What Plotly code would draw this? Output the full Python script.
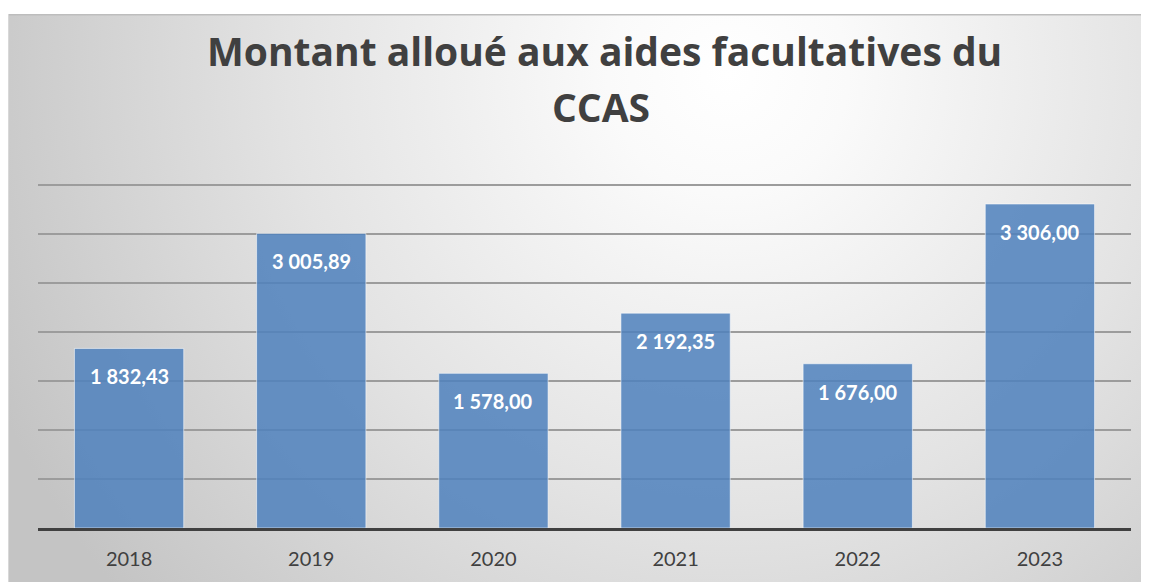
import plotly.graph_objects as go
import urllib.parse

years = ["2018", "2019", "2020", "2021", "2022", "2023"]
values = [1832.43, 3005.89, 1578.00, 2192.35, 1676.00, 3306.00]
labels = ["1 832,43", "3 005,89", "1 578,00", "2 192,35", "1 676,00", "3 306,00"]
title_lines = ["Montant alloué aux aides facultatives du", "CCAS"]

# page body has an 8px margin: figure pixel = screen pixel - 8
OFF = 8
W, H = 1149 - OFF, 582 - OFF
ml, mr, mt, mb = 38 - OFF, 18, 179 - OFF, 582 - 528
pw, ph = W - ml - mr, H - mt - mb
ymax = ph * 3500 / 343.0  # 3500 gridline at screen y=185

fx0, fy0 = 0, 14 - OFF
fw, fh = W - fx0, H - fy0
svg = f'''<svg xmlns="http://www.w3.org/2000/svg" width="{fw}" height="{fh}" viewBox="0 0 {fw} {fh}" preserveAspectRatio="none">
<defs><radialGradient id="g" gradientUnits="userSpaceOnUse" cx="720" cy="60" r="800">
<stop offset="0" stop-color="#ffffff"/><stop offset="0.15" stop-color="#fafafa"/><stop offset="0.55" stop-color="#e3e3e3"/><stop offset="1" stop-color="#c4c4c4"/></radialGradient></defs>
<rect x="0" y="0" width="{fw}" height="{fh}" fill="url(#g)"/>
<line x1="0" y1="0.5" x2="{fw}" y2="0.5" stroke="#bdbdbd" stroke-width="2"/>
<line x1="0.5" y1="0" x2="0.5" y2="{fh}" stroke="#d8d8d8" stroke-width="1"/>
</svg>'''
src = "data:image/svg+xml;charset=utf-8," + urllib.parse.quote(svg)

def px2paper_x(px):
    return (px - ml) / pw

def px2paper_y(py):
    return (H - mb - py) / ph

fig = go.Figure()
fig.add_trace(go.Bar(
    x=years, y=values,
    marker=dict(color="rgba(79,129,189,0.86)", line=dict(color="rgba(255,255,255,0.55)", width=1)),
    width=0.6, hoverinfo="skip",
))

annotations = []
for i, (v, lab) in enumerate(zip(values, labels)):
    annotations.append(dict(x=i, y=v, xref="x", yref="y", text=lab, showarrow=False,
                            yanchor="middle", yshift=-28,
                            font=dict(family="Lato", size=20, color="white", weight="bold")))

annotations.append(dict(x=px2paper_x(604 - OFF), y=px2paper_y(50 - OFF), xref="paper", yref="paper",
                        xanchor="center", yanchor="middle", showarrow=False,
                        text=f"<b>{title_lines[0]}</b>",
                        font=dict(family="Open Sans", size=39, color="#404040")))
annotations.append(dict(x=px2paper_x(601 - OFF), y=px2paper_y(107 - OFF), xref="paper", yref="paper",
                        xanchor="center", yanchor="middle", showarrow=False,
                        text=f"<b>{title_lines[1]}</b>",
                        font=dict(family="Open Sans", size=39, color="#404040")))

fig.update_layout(
    width=W, height=H,
    margin=dict(l=ml, r=mr, t=mt, b=mb, autoexpand=False),
    paper_bgcolor="white", plot_bgcolor="rgba(0,0,0,0)",
    showlegend=False,
    annotations=annotations,
    images=[dict(source=src, xref="paper", yref="paper",
                 x=px2paper_x(fx0), y=px2paper_y(fy0),
                 sizex=fw / pw, sizey=fh / ph, sizing="stretch",
                 xanchor="left", yanchor="top", layer="below")],
    xaxis=dict(type="category", range=[-0.5, len(years) - 0.5], showgrid=False,
               showline=True, linecolor="#404040", linewidth=3,
               ticks="", ticklabelstandoff=11,
               tickfont=dict(family="Lato", size=20, color="#404040")),
    yaxis=dict(range=[0, ymax], tick0=0, dtick=500, showgrid=True, gridcolor="#9c9c9c", gridwidth=1.5,
               showticklabels=False, zeroline=False, ticks=""),
)

fig.write_html("out.html")
